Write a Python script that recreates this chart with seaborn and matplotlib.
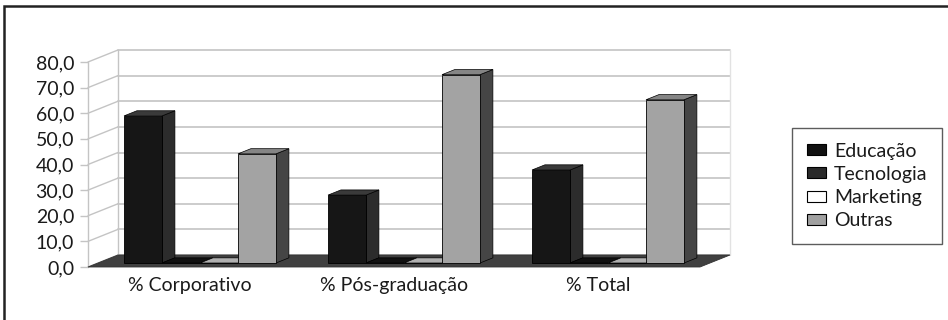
import numpy as np
import pandas as pd
import matplotlib
matplotlib.use('Agg')
import matplotlib.pyplot as plt
from matplotlib.patches import Polygon, Patch, Rectangle
import seaborn as sns

categories = ['% Corporativo', '% Pós-graduação', '% Total']
areas = ['Educação', 'Tecnologia', 'Marketing', 'Outras']
educacao = [57.4, 26.5, 36.3]
tecnologia = [0.0, 0.0, 0.0]
marketing = [0.0, 0.0, 0.0]
outras = [42.6, 73.5, 63.7]
yticks = [0, 10, 20, 30, 40, 50, 60, 70, 80]

front_colors = {'Educação': '#161616', 'Tecnologia': '#222222', 'Marketing': '#ffffff', 'Outras': '#a3a3a3'}
side_colors = {'Educação': '#2c2c2c', 'Tecnologia': '#111111', 'Marketing': '#b4b4b4', 'Outras': '#454545'}
top_colors = {'Educação': '#3a3a3a', 'Tecnologia': '#111111', 'Marketing': '#b0b0b0', 'Outras': '#858585'}
legend_colors = {'Educação': '#111111', 'Tecnologia': '#2a2a2a', 'Marketing': '#ffffff', 'Outras': '#a0a0a0'}

rows = []
for i, cat in enumerate(categories):
    for area, vals in zip(areas, [educacao, tecnologia, marketing, outras]):
        rows.append({'categoria': cat, 'area': area, 'valor': vals[i]})
df = pd.DataFrame(rows)

sns.set_theme(style='white')
plt.rcParams['font.family'] = ['Lato', 'DejaVu Sans']

fig = plt.figure(figsize=(9.48, 3.2), dpi=100)
W, H = 948, 320
ax = fig.add_axes([88 / W, 1 - 267 / H, 612 / W, 205 / H])

# depth of the pseudo-3D box (data units)
DX = 30 / 204
DY = 12 / 2.5625
grid_c = '#c4c4c4'

# back wall + side wall gridlines
ax.add_patch(Polygon([(-0.5 + DX, DY), (2.5 + DX, DY), (2.5 + DX, 80 + DY), (-0.5 + DX, 80 + DY)],
                     closed=True, facecolor='white', edgecolor='none', zorder=0, clip_on=False))
for v in yticks:
    ax.plot([-0.5 + DX, 2.5 + DX], [v + DY, v + DY], color=grid_c, lw=1.2, zorder=0.5, clip_on=False)
    ax.plot([-0.5, -0.5 + DX], [v, v + DY], color=grid_c, lw=1.0, zorder=0.5, clip_on=False)
ax.plot([-0.5 + DX, -0.5 + DX], [DY, 80 + DY], color=grid_c, lw=1.0, zorder=0.5, clip_on=False)
ax.plot([2.5 + DX, 2.5 + DX], [DY, 80 + DY], color='#e2e2e2', lw=1.0, zorder=0.5, clip_on=False)
ax.plot([-0.5, -0.5], [0, 80], color=grid_c, lw=1.0, zorder=0.5, clip_on=False)

# floor
ax.add_patch(Polygon([(-0.5, 0), (2.5, 0), (2.5 + DX, DY), (-0.5 + DX, DY)],
                     closed=True, facecolor='#404040', edgecolor='#333333', lw=0.6, zorder=1, clip_on=False))

sns.barplot(data=df, x='categoria', y='valor', hue='area', order=categories, hue_order=areas,
            palette=front_colors, width=0.745, edgecolor='#000000', linewidth=0.6,
            legend=False, ax=ax, zorder=3)
ax.set_xlim(-0.5, 2.5)
ax.set_ylim(0, 80)

# bars sit a third of the way into the depth; add side and top faces
fx, fy = DX / 3, DY / 3
bdx, bdy = 0.43 * DX, 0.43 * DY
for j, area in enumerate(areas):
    for p in ax.containers[j]:
        x0 = p.get_x() + fx
        w = p.get_width()
        h = p.get_height()
        y0 = fy
        p.set_x(x0)
        p.set_y(y0)
        p.set_clip_on(False)
        x1, y1 = x0 + w, y0 + h
        side = Polygon([(x1, y0), (x1 + bdx, y0 + bdy), (x1 + bdx, y1 + bdy), (x1, y1)], closed=True,
                       facecolor=side_colors[area], edgecolor='#000000', lw=0.5, zorder=2, clip_on=False)
        top = Polygon([(x0, y1), (x1, y1), (x1 + bdx, y1 + bdy), (x0 + bdx, y1 + bdy)], closed=True,
                      facecolor=top_colors[area], edgecolor='#000000', lw=0.5, zorder=2.5, clip_on=False)
        ax.add_patch(side)
        ax.add_patch(top)

for s in ax.spines.values():
    s.set_visible(False)
ax.set_yticks(yticks)
ax.set_yticklabels([f'{v:.1f}'.replace('.', ',') for v in yticks])
ax.tick_params(axis='y', left=True, length=6, width=1, color=grid_c, pad=4, labelsize=14, labelcolor='#1a1a1a')
ax.tick_params(axis='x', bottom=False, length=0, pad=7, labelsize=14, labelcolor='#1a1a1a')
ax.set_xlabel('')
ax.set_ylabel('')
ax.grid(False)

handles = [Patch(facecolor=legend_colors[a], edgecolor='#000000', lw=0.8, label=a) for a in areas]
leg = fig.legend(handles=handles, loc='upper left', bbox_to_anchor=(792 / W, 1 - 128 / H),
                 frameon=True, fancybox=False, fontsize=14, handlelength=1.0, handleheight=0.5,
                 handletextpad=0.4, labelspacing=0.32, borderpad=0.75, borderaxespad=0)
leg.get_frame().set_edgecolor('#333333')
leg.get_frame().set_linewidth(1.0)
for t in leg.get_texts():
    t.set_color('#1a1a1a')

# outer chart border
fig.add_artist(Rectangle((4 / W, -0.05), 1.0, 1 - 6 / H + 0.05, transform=fig.transFigure,
                         fill=False, edgecolor='#222222', lw=1.8))

fig.savefig('out.png', dpi=100)
